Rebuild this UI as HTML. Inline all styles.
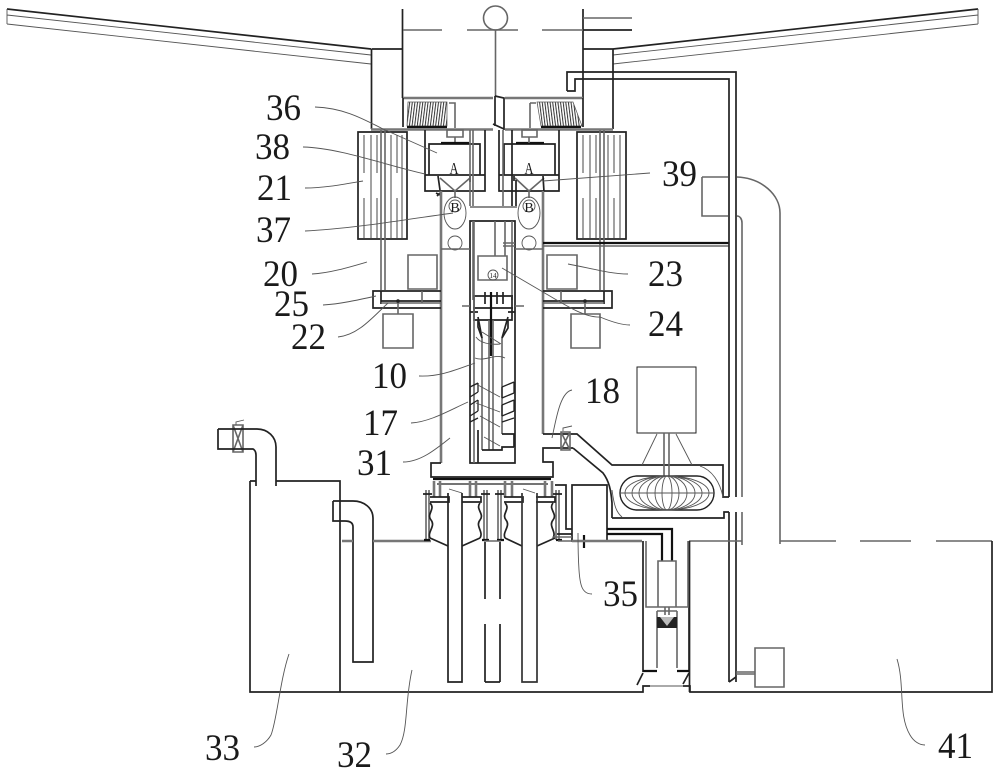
<!DOCTYPE html>
<html><head><meta charset="utf-8"><style>
html,body{margin:0;padding:0;background:#fff;width:1000px;height:775px;overflow:hidden}
svg{display:block}
.b{stroke:#222;stroke-width:1.7;fill:none}
.k{stroke:#111;stroke-width:2.2;fill:none}
.g{stroke:#666;stroke-width:1.6;fill:none}
.h{stroke:#777;stroke-width:2.6;fill:none}
.t{stroke:#555;stroke-width:.9;fill:none}
.l{stroke:#555;stroke-width:.9;fill:none}
text{font-family:"Liberation Serif",serif;fill:#1a1a1a}
.n{font-size:37px}
</style></head><body>
<svg width="1000" height="775" viewBox="0 0 1000 775" xmlns="http://www.w3.org/2000/svg">
<defs>
<pattern id="cl" width="2.6" height="10" patternUnits="userSpaceOnUse" patternTransform="rotate(7)"><rect width="1" height="10" fill="#333"/></pattern>
<pattern id="cr" width="2.6" height="10" patternUnits="userSpaceOnUse" patternTransform="rotate(-7)"><rect width="1" height="10" fill="#333"/></pattern>
</defs>
<rect width="1000" height="775" fill="#fff"/>
<!-- wings -->
<path class="b" d="M7,9L371,49"/><path class="t" d="M7,9V24M7,15L371,55M7,24L371,64"/>
<path class="b" d="M978,9L613,49"/><path class="t" d="M978,9V24M978,15L613,55M978,24L613,64"/>
<!-- top structure -->
<path class="b" d="M402.500,9V98M583,9V98"/>
<path class="g" d="M403,30H442M467,30H518M542,30H583"/>
<path class="b" d="M583,30H632"/><path class="g" d="M583,18H632"/>
<circle cx="495.500" cy="18" r="12" class="g"/>
<path class="g" d="M495.500,30V96"/>
<path class="b" d="M371.500,49H402.500M371.500,49V129M583,49H613M613,49V129"/>
<path class="h" d="M403,98H493M505,98H583M371,129.500H493M505,129.500H613"/>
<path class="b" d="M403,98V127M583,98V127"/>
<!-- coils -->
<path d="M408,102H447V126H407Z" fill="url(#cl)" stroke="#555" stroke-width=".7"/>
<path d="M537,102H573L582,126H541Z" fill="url(#cr)" stroke="#555" stroke-width=".7"/>
<path class="k" d="M407,127H447M541,127H581"/>
<path class="g" d="M449,103H455V128M530,103H536M530,103V128"/>
<!-- centre gate -->
<path class="b" d="M495,96L504,98V130M495,96V126M493,124L504,129"/>
<!-- A boxes -->
<path class="b" d="M425,130V191H485V130M425,175H485M429,175V144H480V175"/>
<path class="g" d="M447,130H463V137H447ZM455,137V143"/>
<path class="b" d="M499,130V191H559V130M499,175H559M504,175V144H555V175"/>
<path class="k" d="M441,143H469M516,143H544"/>
<path class="g" d="M522,130H537V137H522ZM529,137V143"/>
<text x="454" y="174" font-size="17" text-anchor="middle" textLength="9" lengthAdjust="spacingAndGlyphs">A</text>
<text x="529" y="174" font-size="17" text-anchor="middle" textLength="9" lengthAdjust="spacingAndGlyphs">A</text>
<!-- Y connectors -->
<path class="g" d="M440,178L455,191L470,178M455,191V198M515,178L529,191L544,178M529,191V198"/>
<path class="b" d="M438,176L440,190M470,176V182M514,176V181M543,176L544,192"/>
<path class="b" d="M436,193L440,195M437,196L440,193"/>
<!-- B circles -->
<ellipse cx="455" cy="213" rx="11" ry="16" class="t"/><ellipse cx="529" cy="213" rx="11" ry="16" class="t"/>
<circle cx="455" cy="206" r="6" class="t"/><circle cx="529" cy="206" r="6" class="t"/>
<text x="455" y="212" font-size="14" text-anchor="middle">B</text>
<text x="529" y="212" font-size="14" text-anchor="middle">B</text>
<circle cx="455" cy="243" r="7" class="t"/><circle cx="529" cy="243" r="7" class="t"/>
<!-- fin banks -->
<path class="b" d="M358,132H407V239H358Z"/><path class="b" d="M577,132H626V239H577Z"/>
<path class="g" style="stroke-width:1.200" d="M364,135V173M364,198V238M371,135V238M377,135V173M377,198V238M391,135V238M397,135V173M397,198V238M402,135V238"/>
<path class="g" style="stroke-width:1.200" d="M583,135V173M583,198V238M590,135V238M596,135V173M596,198V238M608,135V238M614,135V173M614,198V238M620,135V238"/>
<path class="g" d="M381,130V290M385,130V290M600,130V290M604,130V290"/>
<!-- central column -->
<path class="h" d="M441,191V463M543,191V434"/>
<path class="b" d="M470,221H515V463H470Z"/>
<path class="g" d="M470,130V206M473,130V206M470,207H517M503,130V206"/>
<path class="b" d="M512,130V206M516,180V206"/>
<path class="g" d="M473,221V300M495,221V256M505,221V256"/>
<path class="g" d="M512,221V300M503,243H515M503,246H515"/>
<path class="g" d="M441,249H470M515,249H543"/>
<path class="k" d="M543,243H729"/><path class="g" d="M543,246H729"/>
<!-- boxes -->
<path class="g" d="M408,255H437V289H408ZM547,255H577V289H547ZM383,314H413V348H383ZM571,314H600V348H571ZM478,256H507V280H478Z"/>
<circle cx="493" cy="275" r="5" class="t"/>
<text x="493" y="278" font-size="7" text-anchor="middle">14</text>
<!-- left and right flange boxes -->
<path class="b" d="M441,291H373V308H441M543,291H612V308H543"/>
<path class="b" d="M381,301H441M543,301H604M381,291V304M604,291V304"/>
<path class="g" d="M381,303H441M543,303H604M398,302V314M585,302V314M422,291V303M561,291V303"/>
<circle cx="398" cy="301" r="1.800" fill="#222"/><circle cx="585" cy="301" r="1.800" fill="#222"/>
<!-- column internals -->
<path class="b" d="M473,296H513M473,308H513M474,297V320H512V297M478,317L482,338M508,317L502,338"/>
<path class="g" d="M462,306H470M515,306H524M482,338V450M502,338V434M489,320V450M493,320V450"/>
<path class="k" d="M491,292V356"/>
<path class="b" d="M478,320V327L482,338M508,320V328L502,338M485,292V304M497,292V304M503,292V304M470,312H478M508,312H515"/>
<path class="b" d="M482,450H502V447H514M502,434H514V447M478,463V430"/>
<path class="g" d="M474,221V463"/>
<path class="b" style="stroke-width:1.300" d="M470,387L478,383M470,397L478,392M470,405L478,400M470,416L478,411M470,422L478,418M502,387L514,382M502,398L514,393M502,405L514,400M502,416L514,411M502,422L514,418M502,387V398M502,405V416M514,382V393M514,400V411M478,383V392M478,400V411"/>
<path class="t" d="M476,337C480,343 490,345 500,344 M475,358C485,362 495,353 505,358M476,384L500,397M476,403L500,412M480,416L500,427M484,437L500,446M482,332L501,344"/>
<!-- wall to flange -->
<path class="b" d="M441,463H431V477H553V462H543V448H573M543,434H577L612,465H723V497H729M612,518H724V512H729"/>
<path class="b" d="M573,448L603,473C609,481 611,490 612,503V518"/>
<path class="t" d="M700,466C712,470 720,482 723,497M612,490C614,505 616,512 622,517"/>
<!-- valves -->
<path class="g" d="M561,432H570V450H561ZM561,432L570,450M570,432L561,450"/>
<path class="t" d="M563,431V428L572,426"/>
<path class="g" d="M233,425H243V452H233ZM233,425L243,452M243,425L233,452"/>
<path class="t" d="M236,425V422L244,420"/>
<!-- torus + box -->
<path class="t" d="M657,434L642,465M676,434L692,465"/>
<path class="b" d="M637,367H696V433H637Z" style="stroke-width:1"/>
<path class="g" d="M664,433V476M669,433V476"/>
<g class="t">
<rect x="620" y="476" width="94" height="34" rx="17" ry="17" style="stroke:#222;stroke-width:1.400"/>
<path d="M620,493H714"/>
<ellipse cx="667" cy="493" rx="5" ry="17"/><ellipse cx="667" cy="493" rx="12" ry="17"/><ellipse cx="667" cy="493" rx="20" ry="17"/><ellipse cx="667" cy="493" rx="28" ry="17"/><ellipse cx="667" cy="493" rx="35" ry="17"/><ellipse cx="667" cy="493" rx="42" ry="17"/>
</g>
<!-- right pipes -->
<path class="b" d="M567,91V72H736V497M567,91H575V79H729V497"/>
<path class="g" d="M742,223V497M737,216C740,216 742,219 742,223"/>
<path class="g" d="M737,177C762,178 780,195 780,213V544"/>
<path class="g" d="M702,177H728M702,177V216H728"/>
<path class="b" d="M729,512V682M736,512V682"/><path class="g" d="M742,512V545"/>
<path class="b" d="M729,682L736,677"/>
<path class="g" d="M755,648H784V687H755ZM736,672H755M736,674H755"/>
<!-- tanks -->
<path class="b" d="M250,481H256M276,481H340V692M250,481V692H643V686H650"/>
<path class="b" d="M218,429H257C268,429 276,437 276,447V486M218,429V449H253C255,450 256,452 256,455V486"/>
<path class="b" d="M333,501H353C364,501 373,508 373,518V662H353V527C353,523 350,521 345,521H333V501"/>
<path class="h" d="M342,541H353M373,541H431"/>
<path class="g" d="M689,541H742M780,541H836M860,541H911M936,541H992"/>
<path class="b" d="M992,541V692H690V686H683M689.500,541V692"/>
<path class="t" d="M650,686H683"/>
<!-- flange lower section -->
<path class="k" d="M433,479H551"/>
<path class="b" style="stroke-width:1.200" d="M437,484H548"/>
<path class="h" d="M434,481V497M440,481V497M470,481V497M476,481V497M505,481V497M512,481V497M545,481V497M552,481V497"/>
<path class="g" d="M426,490V540M429,490V540M484,490V540M487,490V540M498,490V540M501,490V540M556,490V540M559,490V540"/>
<path class="b" d="M423,494H432M481,494H490M495,494H504M553,494H562"/>
<path class="k" d="M424,540H430M482,540H489M497,540H504M556,540H562"/>
<path class="b" d="M430,497H449V502H430M462,497H481V502H462M504,497H523V502H504M536,497H555V502H536"/>
<path class="b" d="M430,503C436,509 426,514 431,520C436,526 427,532 430,538M480,503C475,509 485,514 480,520C475,526 484,532 480,538M505,503C511,509 501,514 506,520C511,526 502,532 505,538M553,503C548,509 558,514 553,520C548,526 557,532 553,538"/>
<path class="b" d="M430,538L448,546M462,546L480,538M505,538L522,546M537,546L555,538"/>
<path class="g" d="M484,541H501"/>
<path class="t" d="M449,489L462,493M523,489L535,493"/>
<!-- big pipes -->
<path class="b" d="M448,493V682H462V493"/><path class="b" d="M522,493V682H537V493" style="stroke:#333"/>
<path class="b" d="M485,542V599M500,542V599M485,624V682M500,624V682M485,682H500"/>
<path class="b" d="M555,485H566V529H572M557,534H572M572,485H607V541H572Z"/>
<path class="g" d="M553,537H572M558,541H572"/>
<path class="k" d="M584,535V548M607,529H672V561"/><path class="k" d="M607,534H662V561"/>
<path class="h" d="M572,541H642"/>
<!-- actuator chamber -->
<path class="b" d="M643,541V672M689,541V672"/>
<path class="g" d="M646,541V607H688V541M646,607H688M658,561H676V607H658Z"/>
<path class="g" d="M665,607V615M669,607V615"/>
<path class="g" d="M657,611H677M657,611V668M677,611V668"/>
<path d="M657,617H677V628H657Z" fill="#222"/><path d="M660,617H674L667,626Z" fill="#bbb"/>
<path class="k" d="M643,671H657M677,671H689"/>
<path class="b" d="M643,673L637,685M689,673L683,684"/>
<!-- leaders -->
<path class="l" d="M315,107C345,108 365,120 383,129L437,153"/>
<path class="l" d="M303,147C340,148 385,165 425,174"/>
<path class="l" d="M305,188C325,188 345,184 363,181"/>
<path class="l" d="M305,231C350,229 410,219 453,213"/>
<path class="l" d="M312,274C330,273 350,267 367,262"/>
<path class="l" d="M323,305C340,304 358,300 376,296"/>
<path class="l" d="M338,337C358,335 372,318 388,303"/>
<path class="l" d="M650,173L543,181"/>
<path class="l" d="M568,264C590,268 610,274 628,274"/>
<path class="l" d="M502,268L543,292C565,305 585,318 600,317C612,322 622,325 630,325"/>
<path class="l" d="M419,376C440,377 458,369 475,363"/>
<path class="l" d="M411,423C430,422 450,410 468,402"/>
<path class="l" d="M403,462C420,462 435,450 450,438"/>
<path class="l" d="M572,390C560,392 556,420 552,438"/>
<path class="l" d="M592,594C582,594 580,585 579,570C578,555 578,545 578,533"/>
<path class="l" d="M289,654C280,680 277,720 271,735C267,742 260,747 254,747"/>
<path class="l" d="M412,670C405,700 408,730 400,745C396,751 391,754 386,754"/>
<path class="l" d="M897,659C905,685 898,715 910,735C914,742 920,745 925,745"/>
<!-- labels -->
<g class="n">
<text x="266" y="120" textLength="35" lengthAdjust="spacingAndGlyphs">36</text>
<text x="255" y="159" textLength="35" lengthAdjust="spacingAndGlyphs">38</text>
<text x="257" y="200" textLength="35" lengthAdjust="spacingAndGlyphs">21</text>
<text x="256" y="242" textLength="35" lengthAdjust="spacingAndGlyphs">37</text>
<text x="263" y="286" textLength="35" lengthAdjust="spacingAndGlyphs">20</text>
<text x="274" y="316" textLength="35" lengthAdjust="spacingAndGlyphs">25</text>
<text x="291" y="349" textLength="35" lengthAdjust="spacingAndGlyphs">22</text>
<text x="662" y="186" textLength="35" lengthAdjust="spacingAndGlyphs">39</text>
<text x="648" y="286" textLength="35" lengthAdjust="spacingAndGlyphs">23</text>
<text x="648" y="336" textLength="35" lengthAdjust="spacingAndGlyphs">24</text>
<text x="372" y="388" textLength="35" lengthAdjust="spacingAndGlyphs">10</text>
<text x="363" y="435" textLength="35" lengthAdjust="spacingAndGlyphs">17</text>
<text x="357" y="475" textLength="35" lengthAdjust="spacingAndGlyphs">31</text>
<text x="585" y="403" textLength="35" lengthAdjust="spacingAndGlyphs">18</text>
<text x="603" y="606" textLength="35" lengthAdjust="spacingAndGlyphs">35</text>
<text x="205" y="760" textLength="35" lengthAdjust="spacingAndGlyphs">33</text>
<text x="337" y="767" textLength="35" lengthAdjust="spacingAndGlyphs">32</text>
<text x="938" y="758" textLength="35" lengthAdjust="spacingAndGlyphs">41</text>
</g>
</svg>
</body></html>
